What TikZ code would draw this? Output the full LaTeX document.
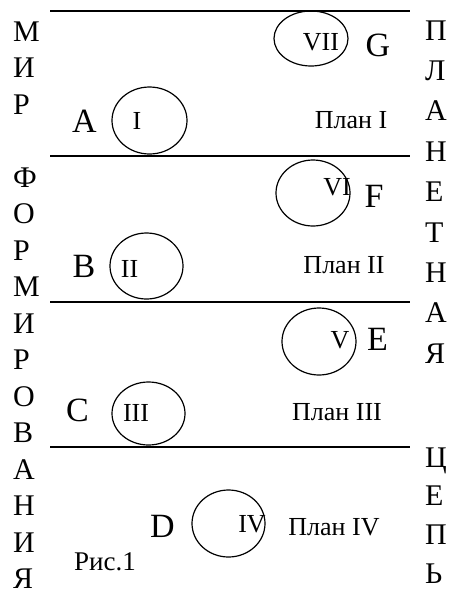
\documentclass[tikz,border=0pt]{standalone}
\usepackage{fontspec}
\setmainfont{Liberation Serif}
\usetikzlibrary{shapes.geometric}

\tikzset{
    side/.style={anchor=base west,inner sep=0pt,font=\fontsize{30}{30}\selectfont},
    big/.style={anchor=base,inner sep=0pt,font=\fontsize{34}{34}\selectfont},
    numeral/.style={anchor=base,inner sep=0pt,font=\fontsize{26}{26}\selectfont},
    plantext/.style={anchor=base,inner sep=0pt,font=\fontsize{26}{26}\selectfont},
    orbit/.style={draw,ellipse,line width=1.2pt,inner sep=0pt},
    level/.style={line width=2pt}
}

\begin{document}
\begin{tikzpicture}[x=1pt,y=-1pt]
        \useasboundingbox (0,0) rectangle (449,592);
        % levels
        \foreach \i/\y in {1/11,2/156,3/302,4/447}{
            \coordinate (l\i) at (50,\y);
            \coordinate (r\i) at (410,\y);
            \draw[level] (l\i) -- (r\i);
        }
        % orbits
        \foreach \n/\x/\y/\w/\h in {VII/311/38.5/74/55,I/149.5/120.5/75/67,VI/313/193/74/66,II/146.5/266/73/66,V/319/341.5/74/67,III/148.5/413.5/73/63,IV/228.5/523.5/73/67}{
            \node[orbit,minimum width=\w,minimum height=\h] (o\n) at (\x,\y) {};
        }
        \foreach \n/\x/\y in {VII/321/50,I/137/129,VI/337/195,II/129.5/277,V/340/348,III/136/421,IV/252/532}{
            \node[numeral] (n\n) at (\x,\y) {\n};
        }
        \foreach \t/\x/\y in {G/378/56,A/84.5/132,F/374/207,B/84/277,E/377.5/350,C/77.5/421,D/162.5/537}{
            \node[big] (\t) at (\x,\y) {\t};
        }
        \foreach \t/\x/\y [count=\k] in {План I/351/128,План II/344/273,План III/337/420,План IV/334/535}{
            \node[plantext] (p\k) at (\x,\y) {\t};
        }
        \node[plantext,font=\fontsize{27}{27}\selectfont] (fig) at (105,570) {Рис.1};
        % side words
        \foreach \ch [count=\k from 0] in {М,И,Р}{
            \node[side] (mir\k) at (13,{41+36.5*\k}) {\ch};
        }
        \foreach \ch [count=\k from 4] in {Ф,О,Р,М,И,Р,О,В,А,Н,И,Я}{
            \node[side] (form\k) at (13,{41+36.5*\k}) {\ch};
        }
        \foreach \ch [count=\k from 0] in {П,Л,А,Н,Е,Т,Н,А,Я}{
            \node[side] (planet\k) at (425,{40+40.4*\k}) {\ch};
        }
        \foreach \ch [count=\k from 0] in {Ц,Е,П,Ь}{
            \node[side] (chain\k) at (425,{467+38.7*\k}) {\ch};
        }
\end{tikzpicture}
\end{document}
